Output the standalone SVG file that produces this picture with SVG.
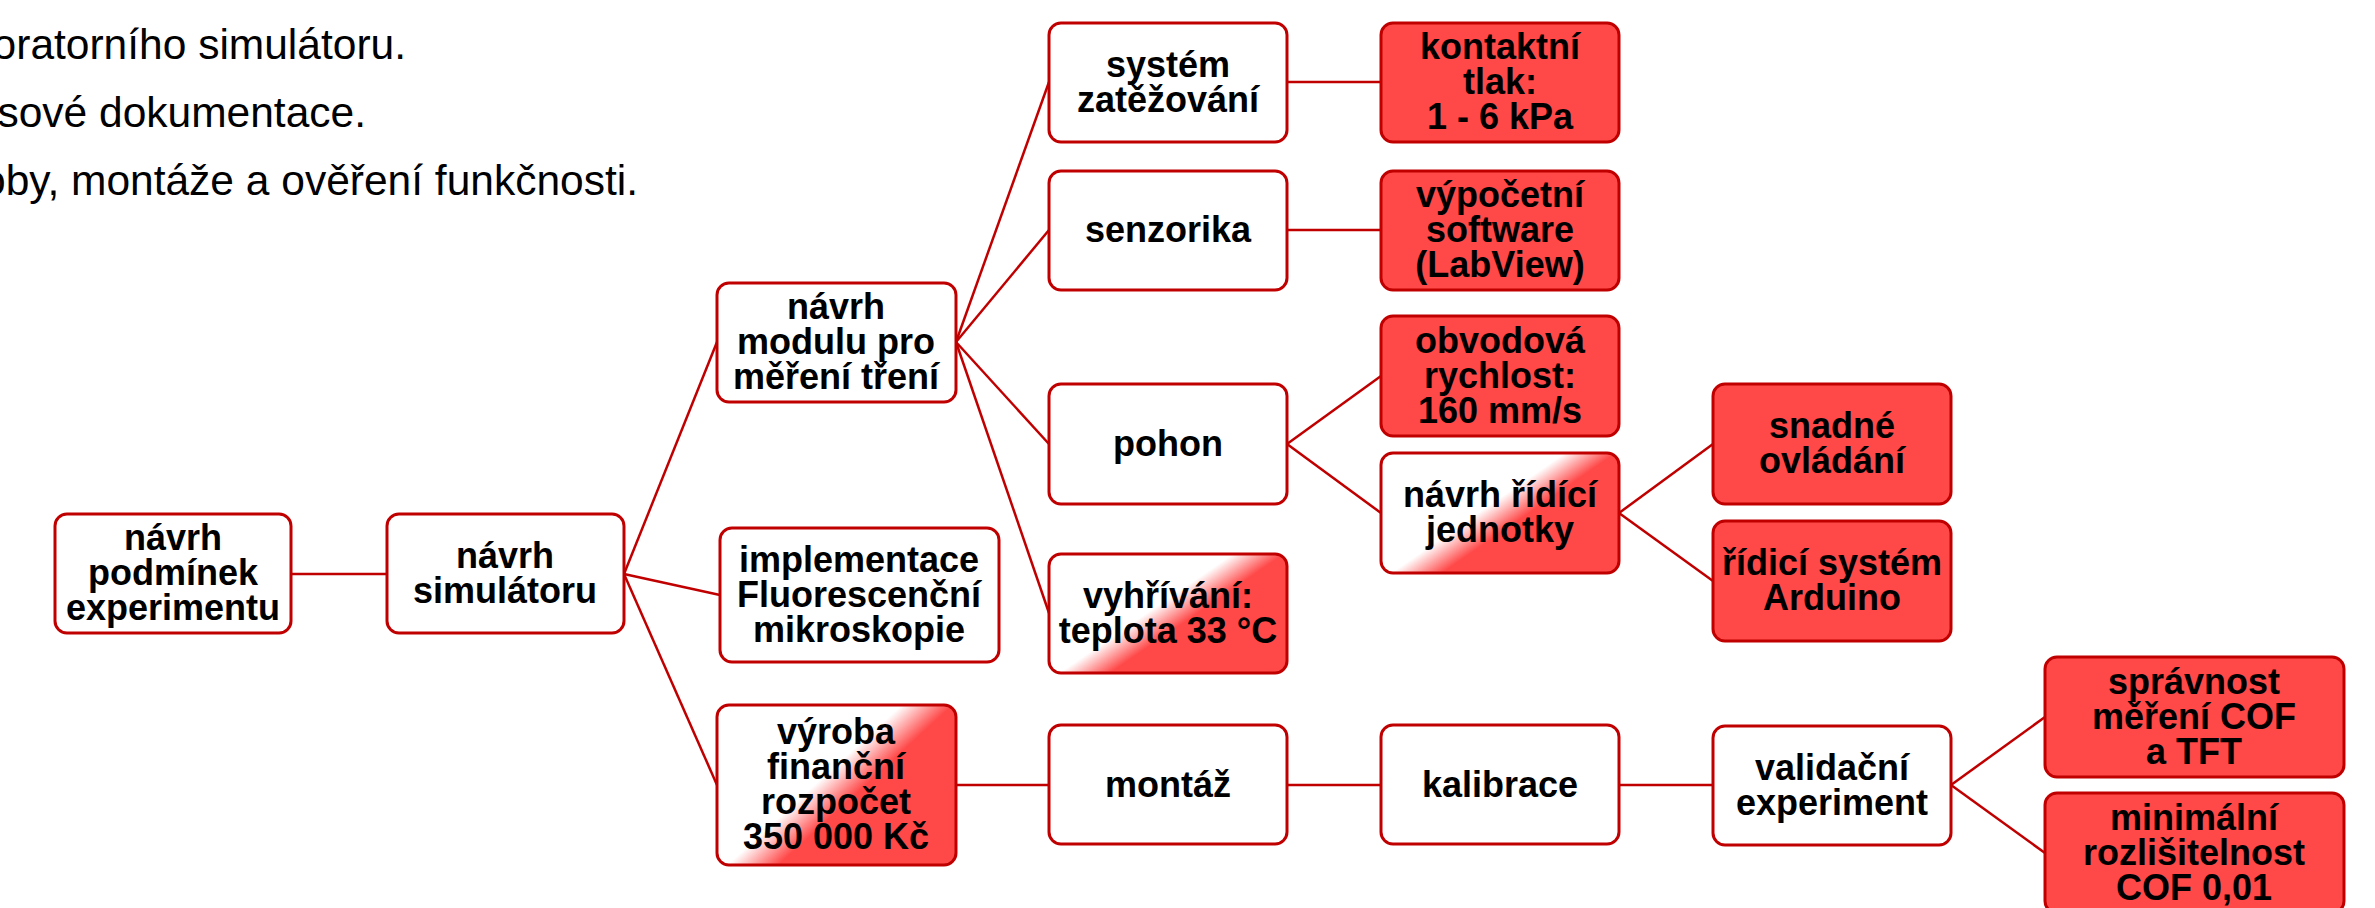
<svg xmlns="http://www.w3.org/2000/svg" width="2375" height="908" viewBox="0 0 2375 908">
<style>
.bx{stroke:#c00000;stroke-width:3}
.w{fill:#ffffff}
.r{fill:#ff4848}
.g{fill:url(#grad)}
.t{font-family:"Liberation Sans",Arial,sans-serif;font-weight:bold;font-size:36px;fill:#000;text-anchor:middle}
.top{font-family:"Liberation Sans",Arial,sans-serif;font-size:42.5px;fill:#000;text-anchor:end}
.c{stroke:#c00000;stroke-width:2.5;fill:none}
</style>
<defs>
<linearGradient id="grad" x1="0" y1="0.135" x2="1" y2="0.865">
<stop offset="0.44" stop-color="#ffffff"/>
<stop offset="0.58" stop-color="#ff4848"/>
</linearGradient>
</defs>
<rect width="2375" height="908" fill="#ffffff"/>
<g id="intro">
<text class="top" x="406" y="59">oratorního simulátoru.</text>
<text class="top" x="366" y="127">sové dokumentace.</text>
<text class="top" x="638" y="195">oby, montáže a ověření funkčnosti.</text>
</g>
<g id="connectors">
<line class="c" x1="291" y1="574" x2="387" y2="574"/>
<line class="c" x1="624" y1="574" x2="717" y2="342"/>
<line class="c" x1="624" y1="574" x2="720" y2="595"/>
<line class="c" x1="624" y1="574" x2="717" y2="785"/>
<line class="c" x1="956" y1="342" x2="1049" y2="82"/>
<line class="c" x1="956" y1="342" x2="1049" y2="230"/>
<line class="c" x1="956" y1="342" x2="1049" y2="444"/>
<line class="c" x1="956" y1="342" x2="1049" y2="613"/>
<line class="c" x1="1287" y1="82" x2="1381" y2="82"/>
<line class="c" x1="1287" y1="230" x2="1381" y2="230"/>
<line class="c" x1="1287" y1="444" x2="1381" y2="376"/>
<line class="c" x1="1287" y1="444" x2="1381" y2="513"/>
<line class="c" x1="1619" y1="513" x2="1713" y2="444"/>
<line class="c" x1="1619" y1="513" x2="1713" y2="581"/>
<line class="c" x1="956" y1="785" x2="1049" y2="785"/>
<line class="c" x1="1287" y1="785" x2="1381" y2="785"/>
<line class="c" x1="1619" y1="785" x2="1713" y2="785"/>
<line class="c" x1="1951" y1="785" x2="2045" y2="717"/>
<line class="c" x1="1951" y1="785" x2="2045" y2="853"/>
</g>
<g id="n-podminky">
<rect class="bx w" x="55" y="514" width="236" height="119" rx="12"/>
<text class="t" x="173" y="550">návrh</text>
<text class="t" x="173" y="585">podmínek</text>
<text class="t" x="173" y="620">experimentu</text>
</g>
<g id="n-simulator">
<rect class="bx w" x="387" y="514" width="237" height="119" rx="12"/>
<text class="t" x="505" y="568">návrh</text>
<text class="t" x="505" y="603">simulátoru</text>
</g>
<g id="n-modul">
<rect class="bx w" x="717" y="283" width="239" height="119" rx="12"/>
<text class="t" x="836" y="319">návrh</text>
<text class="t" x="836" y="354">modulu pro</text>
<text class="t" x="836" y="389">měření tření</text>
</g>
<g id="n-fluor">
<rect class="bx w" x="720" y="528" width="279" height="134" rx="12"/>
<text class="t" x="859" y="572">implementace</text>
<text class="t" x="859" y="607">Fluorescenční</text>
<text class="t" x="859" y="642">mikroskopie</text>
</g>
<g id="n-vyroba">
<rect class="bx g" x="717" y="705" width="239" height="160" rx="12"/>
<text class="t" x="836" y="744">výroba</text>
<text class="t" x="836" y="779">finanční</text>
<text class="t" x="836" y="814">rozpočet</text>
<text class="t" x="836" y="849">350 000 Kč</text>
</g>
<g id="n-zatezovani">
<rect class="bx w" x="1049" y="23" width="238" height="119" rx="12"/>
<text class="t" x="1168" y="77">systém</text>
<text class="t" x="1168" y="112">zatěžování</text>
</g>
<g id="n-senzorika">
<rect class="bx w" x="1049" y="171" width="238" height="119" rx="12"/>
<text class="t" x="1168" y="242">senzorika</text>
</g>
<g id="n-pohon">
<rect class="bx w" x="1049" y="384" width="238" height="120" rx="12"/>
<text class="t" x="1168" y="456">pohon</text>
</g>
<g id="n-vyhrivani">
<rect class="bx g" x="1049" y="554" width="238" height="119" rx="12"/>
<text class="t" x="1168" y="608">vyhřívání:</text>
<text class="t" x="1168" y="643">teplota 33 °C</text>
</g>
<g id="n-tlak">
<rect class="bx r" x="1381" y="23" width="238" height="119" rx="12"/>
<text class="t" x="1500" y="59">kontaktní</text>
<text class="t" x="1500" y="94">tlak:</text>
<text class="t" x="1500" y="129">1 - 6 kPa</text>
</g>
<g id="n-software">
<rect class="bx r" x="1381" y="171" width="238" height="119" rx="12"/>
<text class="t" x="1500" y="207">výpočetní</text>
<text class="t" x="1500" y="242">software</text>
<text class="t" x="1500" y="277">(LabView)</text>
</g>
<g id="n-rychlost">
<rect class="bx r" x="1381" y="316" width="238" height="120" rx="12"/>
<text class="t" x="1500" y="353">obvodová</text>
<text class="t" x="1500" y="388">rychlost:</text>
<text class="t" x="1500" y="423">160 mm/s</text>
</g>
<g id="n-jednotka">
<rect class="bx g" x="1381" y="453" width="238" height="120" rx="12"/>
<text class="t" x="1500" y="507">návrh řídící</text>
<text class="t" x="1500" y="542">jednotky</text>
</g>
<g id="n-ovladani">
<rect class="bx r" x="1713" y="384" width="238" height="120" rx="12"/>
<text class="t" x="1832" y="438">snadné</text>
<text class="t" x="1832" y="473">ovládání</text>
</g>
<g id="n-arduino">
<rect class="bx r" x="1713" y="521" width="238" height="120" rx="12"/>
<text class="t" x="1832" y="575">řídicí systém</text>
<text class="t" x="1832" y="610">Arduino</text>
</g>
<g id="n-montaz">
<rect class="bx w" x="1049" y="725" width="238" height="119" rx="12"/>
<text class="t" x="1168" y="797">montáž</text>
</g>
<g id="n-kalibrace">
<rect class="bx w" x="1381" y="725" width="238" height="119" rx="12"/>
<text class="t" x="1500" y="797">kalibrace</text>
</g>
<g id="n-validace">
<rect class="bx w" x="1713" y="726" width="238" height="119" rx="12"/>
<text class="t" x="1832" y="780">validační</text>
<text class="t" x="1832" y="815">experiment</text>
</g>
<g id="n-spravnost">
<rect class="bx r" x="2045" y="657" width="299" height="120" rx="12"/>
<text class="t" x="2194" y="694">správnost</text>
<text class="t" x="2194" y="729">měření COF</text>
<text class="t" x="2194" y="764">a TFT</text>
</g>
<g id="n-rozlisitelnost">
<rect class="bx r" x="2045" y="793" width="299" height="120" rx="12"/>
<text class="t" x="2194" y="830">minimální</text>
<text class="t" x="2194" y="865">rozlišitelnost</text>
<text class="t" x="2194" y="900">COF 0,01</text>
</g>
</svg>
